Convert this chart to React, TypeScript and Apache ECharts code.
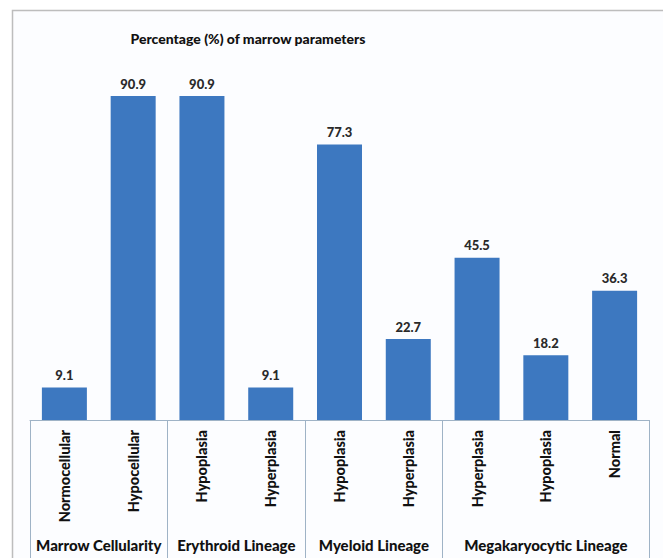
import React, { useEffect, useRef } from "react";
import * as echarts from "echarts";

const categories = [
  "Normocellular",
  "Hypocellular",
  "Hypoplasia",
  "Hyperplasia",
  "Hypoplasia",
  "Hyperplasia",
  "Hyperplasia",
  "Hypoplasia",
  "Normal",
];
const values = [9.1, 90.9, 90.9, 9.1, 77.3, 22.7, 45.5, 18.2, 36.3];
const groupNames = ["Marrow Cellularity", "Erythroid Lineage", "Myeloid Lineage", "Megakaryocytic Lineage"];
const groupCenters = [1, 3, 5, 7.5];
const groupBoundaries = [0, 2, 4, 6];

const FONT = "Lato, 'Open Sans', sans-serif";

export default function App() {
  const ref = useRef<HTMLDivElement>(null);
  useEffect(() => {
    const chart = echarts.init(ref.current!, null, { renderer: "svg" });
    chart.setOption({
      animation: false,
      backgroundColor: "#ffffff",
      graphic: [
        {
          type: "rect",
          z: -10,
          silent: true,
          shape: { x: 12.5, y: 10.5, width: 700, height: 600 },
          style: { fill: "#fcfdff", stroke: "#bdbdbd", lineWidth: 1.5 },
        },
      ],
      title: {
        text: "Percentage (%) of marrow parameters",
        left: 243,
        textAlign: "center",
        top: 26,
        textStyle: { fontFamily: FONT, fontSize: 14, fontWeight: 900, color: "#111111" },
      },
      grid: { left: 30, right: 14, top: 63.6, bottom: 138 },
      xAxis: [
        {
          type: "category",
          data: categories,
          position: "bottom",
          axisLine: { show: true, lineStyle: { color: "#9fb3c6", width: 1 } },
          axisTick: {
            show: true,
            length: 145,
            interval: (index: number) => groupBoundaries.includes(index),
            lineStyle: { color: "#9fb3c6", width: 1 },
          },
          axisLabel: {
            rotate: 90,
            interval: 0,
            margin: 10,
            fontFamily: FONT,
            fontSize: 14.5,
            fontWeight: 900,
            color: "#111111",
          },
        },
        {
          type: "value",
          min: 0,
          max: 9,
          interval: 0.5,
          position: "bottom",
          offset: 109,
          axisLine: { show: false },
          axisTick: { show: false },
          splitLine: { show: false },
          axisLabel: {
            margin: 8,
            showMinLabel: true,
            showMaxLabel: true,
            fontFamily: FONT,
            fontSize: 15,
            fontWeight: 900,
            color: "#111111",
            formatter: (v: number) => {
              const i = groupCenters.indexOf(v);
              return i >= 0 ? groupNames[i] : "";
            },
          },
        },
      ],
      yAxis: {
        type: "value",
        min: 0,
        max: 100,
        show: false,
        splitLine: { show: false },
      },
      series: [
        {
          type: "bar",
          data: values,
          barWidth: 45,
          itemStyle: { color: "#3d78c0" },
          label: {
            show: true,
            position: "top",
            distance: 6,
            fontFamily: FONT,
            fontSize: 13,
            fontWeight: 900,
            color: "#2a2a2a",
            formatter: (p: any) => p.value.toFixed(1),
          },
        },
      ],
    });
    return () => chart.dispose();
  }, []);
  return (
    <div
      ref={ref}
      style={{ position: "fixed", left: 0, top: 0, width: 663, height: 558 }}
    />
  );
}
